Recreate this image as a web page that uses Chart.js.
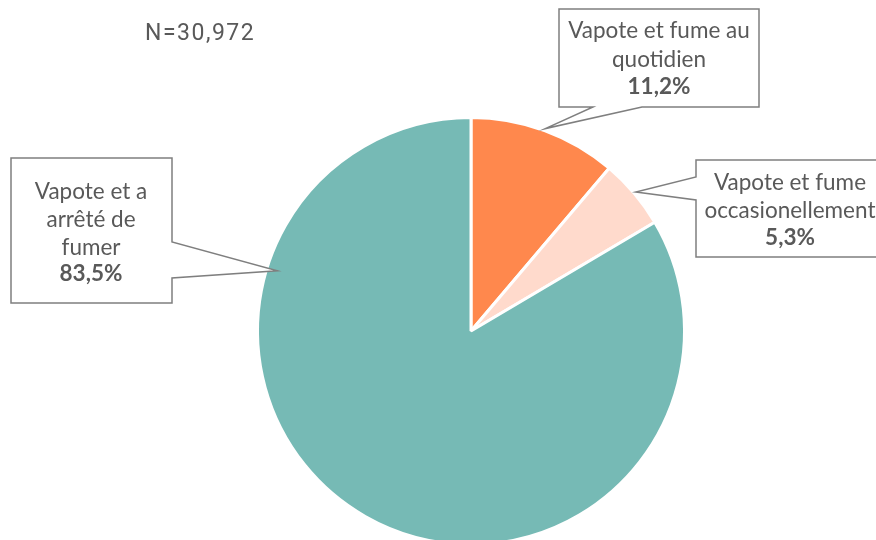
<!DOCTYPE html>
<html>
<head>
<meta charset="utf-8">
<script src="https://cdn.jsdelivr.net/npm/chart.js@4/dist/chart.umd.min.js"></script>
<style>
  body { margin: 0; background: #fff; overflow: hidden; }
  #wrap { position: relative; width: 876px; height: 560px; }
</style>
</head>
<body>
<div id="wrap"><canvas id="canva"></canvas></div>
<script>
// Donnees
const categories = [
  ["Vapote et fume au", "quotidien"],
  ["Vapote et fume", "occasionellement"],
  ["Vapote et a", "arrêté de", "fumer"]
];
const valeurs = [11.2, 5.3, 83.5];
const couleurs = ["#FF884D", "#FFDACC", "#76BAB5"];
const effectif = "N=30,972";

// Bulles (position des boites, base de la pointe, position de la pointe sur l'arc)
const bulles = [
  { x1: 559, y1: 9, x2: 759, y2: 107, cote: "bas", p1: 593, p2: 642, pos: 0.5, r: 1.01, tx: 659, ty: 31, pas: 28.5 },
  { x1: 696, y1: 160, x2: 890, y2: 257, cote: "gauche", p1: 177, p2: 200, pos: 0.5, r: 1.01, tx: 790, ty: 183, pas: 28 },
  { x1: 11, y1: 158, x2: 172, y2: 303, cote: "droite", p1: 242, p2: 278, pos: 0.758, r: 0.95, tx: 91, ty: 192, pas: 27.7 }
];

function formater(v) {
  return v.toFixed(1).replace(".", ",") + "%";
}

const pluginBulles = {
  id: "bulles",
  afterDraw(chart) {
    const ctx = chart.ctx;
    const arcs = chart.getDatasetMeta(0).data;
    ctx.save();

    // N=
    ctx.fillStyle = "#595959";
    ctx.font = "23px Roboto";
    ctx.letterSpacing = "1.5px";
    ctx.textAlign = "left";
    ctx.textBaseline = "middle";
    ctx.fillText(effectif, 145, 34);
    ctx.letterSpacing = "0px";

    bulles.forEach((b, i) => {
      const arc = arcs[i];
      const a = arc.startAngle + (arc.endAngle - arc.startAngle) * b.pos;
      const tipX = arc.x + Math.cos(a) * arc.outerRadius * b.r;
      const tipY = arc.y + Math.sin(a) * arc.outerRadius * b.r;

      ctx.beginPath();
      if (b.cote === "bas") {
        ctx.moveTo(b.x1, b.y1);
        ctx.lineTo(b.x2, b.y1);
        ctx.lineTo(b.x2, b.y2);
        ctx.lineTo(b.p2, b.y2);
        ctx.lineTo(tipX, tipY);
        ctx.lineTo(b.p1, b.y2);
        ctx.lineTo(b.x1, b.y2);
      } else if (b.cote === "gauche") {
        ctx.moveTo(b.x1, b.y1);
        ctx.lineTo(b.x2, b.y1);
        ctx.lineTo(b.x2, b.y2);
        ctx.lineTo(b.x1, b.y2);
        ctx.lineTo(b.x1, b.p2);
        ctx.lineTo(tipX, tipY);
        ctx.lineTo(b.x1, b.p1);
      } else {
        ctx.moveTo(b.x1, b.y1);
        ctx.lineTo(b.x2, b.y1);
        ctx.lineTo(b.x2, b.p1);
        ctx.lineTo(tipX, tipY);
        ctx.lineTo(b.x2, b.p2);
        ctx.lineTo(b.x2, b.y2);
        ctx.lineTo(b.x1, b.y2);
      }
      ctx.closePath();
      ctx.fillStyle = "#ffffff";
      ctx.fill();
      ctx.lineWidth = 1.5;
      ctx.strokeStyle = "#7F7F7F";
      ctx.stroke();

      ctx.fillStyle = "#595959";
      ctx.textAlign = "center";
      ctx.textBaseline = "middle";
      const lignes = categories[i];
      ctx.font = "22.5px Lato";
      lignes.forEach((l, j) => {
        ctx.fillText(l, b.tx, b.ty + j * b.pas);
      });
      ctx.font = "bold 22.5px Lato";
      ctx.fillText(formater(valeurs[i]), b.tx, b.ty + lignes.length * b.pas - 1);
    });
    ctx.restore();
  }
};

new Chart(document.getElementById("canva").getContext("2d"), {
  type: "pie",
  data: {
    labels: categories,
    datasets: [{
      data: valeurs,
      backgroundColor: couleurs,
      borderColor: "#ffffff",
      borderWidth: 3
    }]
  },
  options: {
    responsive: true,
    maintainAspectRatio: false,
    animation: false,
    layout: { padding: { top: 116, bottom: 14, left: 256, right: 190 } },
    plugins: {
      legend: { display: false },
      tooltip: { enabled: false },
      title: { display: false }
    }
  },
  plugins: [pluginBulles]
});
</script>
</body>
</html>
